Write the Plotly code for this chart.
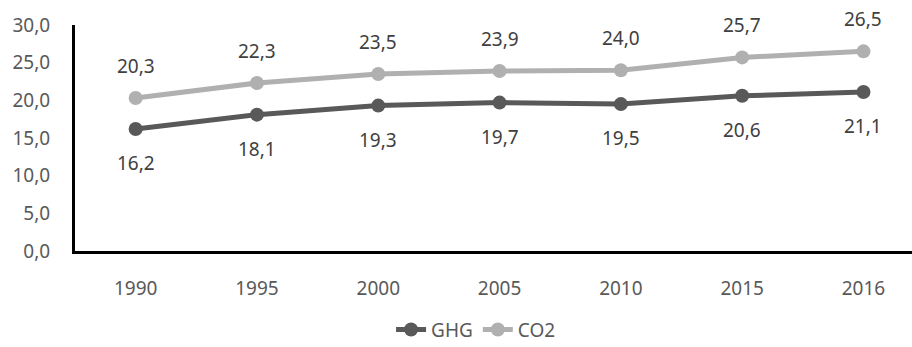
import plotly.graph_objects as go

years = ["1990", "1995", "2000", "2005", "2010", "2015", "2016"]
ghg = [16.2, 18.1, 19.3, 19.7, 19.5, 20.6, 21.1]
co2 = [20.3, 22.3, 23.5, 23.9, 24.0, 25.7, 26.5]
y_ticks = [0, 5, 10, 15, 20, 25, 30]

GHG_COLOR = "#595959"
CO2_COLOR = "#b0b0b0"
TEXT_COLOR = "#595959"
LABEL_COLOR = "#404040"
FONT = "Noto Sans"

fig = go.Figure()
fig.add_trace(go.Scatter(
    x=years, y=ghg, name="GHG", mode="lines+markers",
    line=dict(color=GHG_COLOR, width=5),
    marker=dict(color=GHG_COLOR, size=14),
))
fig.add_trace(go.Scatter(
    x=years, y=co2, name="CO2", mode="lines+markers",
    line=dict(color=CO2_COLOR, width=5),
    marker=dict(color=CO2_COLOR, size=14),
))

def fmt(v):
    return f"{v:.1f}".replace(".", ",")

# value labels: CO2 above its points, GHG below
annotations = []
for i, v in enumerate(co2):
    annotations.append(dict(x=i, y=v, xref="x", yref="y", text=fmt(v),
                            showarrow=False, yshift=32,
                            font=dict(family=FONT, size=19, color=LABEL_COLOR)))
for i, v in enumerate(ghg):
    annotations.append(dict(x=i, y=v, xref="x", yref="y", text=fmt(v),
                            showarrow=False, yshift=-34,
                            font=dict(family=FONT, size=19, color=LABEL_COLOR)))

fig.update_layout(
    width=912, height=347,
    margin=dict(l=75, r=0, t=25, b=96),
    paper_bgcolor="white", plot_bgcolor="white",
    font=dict(family=FONT, size=19, color=TEXT_COLOR),
    showlegend=True,
    legend=dict(orientation="h", x=0.522, xanchor="center", xref="container",
                y=0.05, yanchor="middle", yref="container",
                font=dict(family=FONT, size=19, color=TEXT_COLOR),
                traceorder="normal"),
    annotations=annotations,
)
fig.update_xaxes(
    type="category", range=[-0.5, 6.4],
    showline=True, linecolor="black", linewidth=3,
    showgrid=False, zeroline=False,
    ticks="outside", ticklen=18, tickcolor="rgba(0,0,0,0)",
    tickfont=dict(family=FONT, size=19, color=TEXT_COLOR),
)
fig.update_yaxes(
    range=[0, 30], tickvals=y_ticks,
    ticktext=[fmt(v) for v in y_ticks],
    showline=True, linecolor="black", linewidth=3,
    showgrid=False, zeroline=False,
    ticks="outside", ticklen=18, tickcolor="rgba(0,0,0,0)",
    tickfont=dict(family=FONT, size=19, color=TEXT_COLOR),
)

fig.write_html("out.html")
